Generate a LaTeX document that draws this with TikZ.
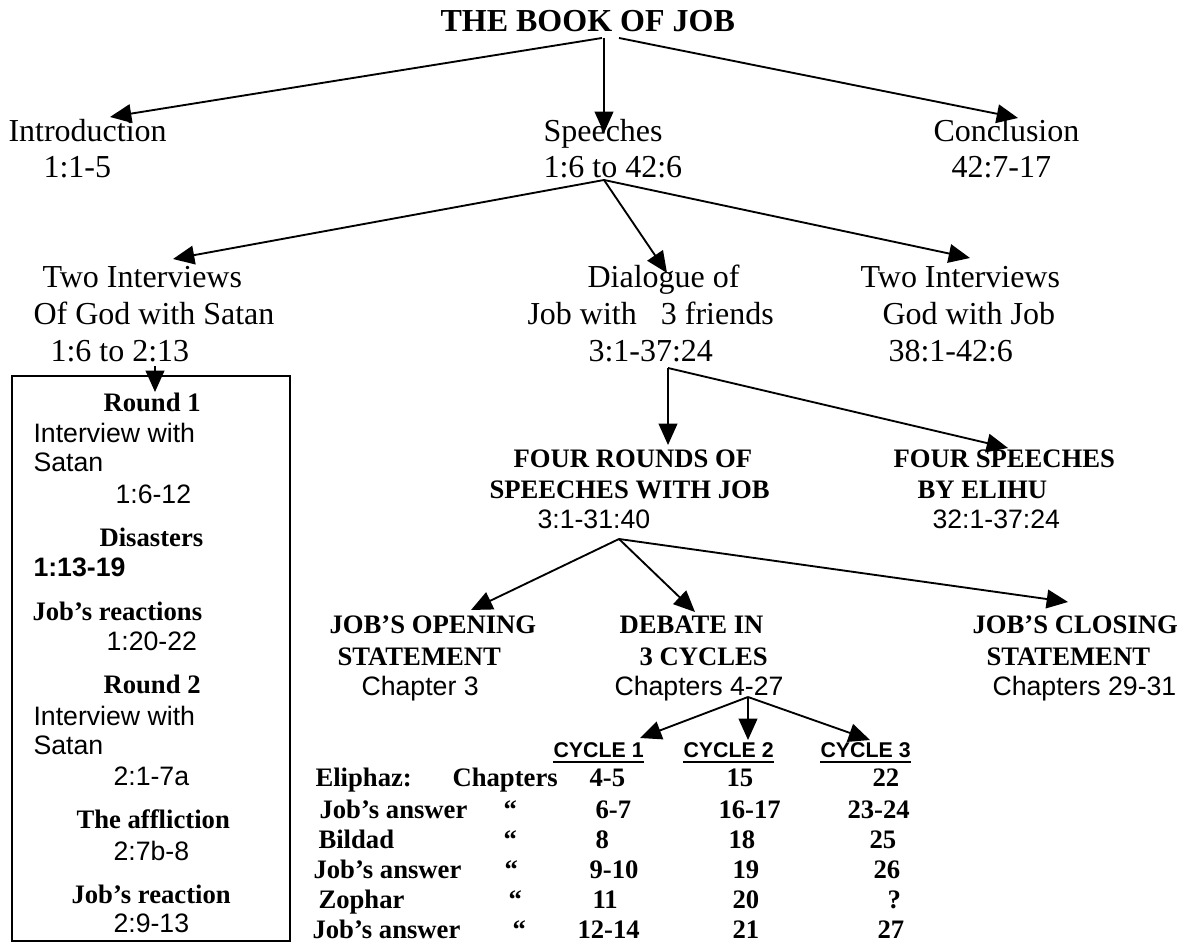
\documentclass[tikz,border=0pt]{standalone}
\usepackage{fontspec}
\setmainfont{Liberation Serif}
\setsansfont{Liberation Sans}
\usepackage{tikz}
\usetikzlibrary{arrows.meta}

\begin{document}
\begin{tikzpicture}[x=0.375pt,y=-0.375pt,
  txt/.style={anchor=base west,inner sep=0pt,font=\fontsize{12}{14}\selectfont},
  capt/.style={anchor=base west,inner sep=0pt,font=\fontsize{10}{12}\selectfont\bfseries},
  ref/.style={anchor=base west,inner sep=0pt,font=\sffamily\fontsize{10}{12}\selectfont},
  hdr/.style={anchor=base west,inner sep=0pt,font=\sffamily\bfseries\fontsize{8}{10}\selectfont},
  arr/.style={-{Triangle[length=8pt,width=7pt]},line width=0.7pt}
]
\useasboundingbox (0,0) rectangle (1179,943);

% top level
\node[txt,font=\fontsize{12}{14}\selectfont\bfseries] (book) at (440,32) {THE BOOK OF JOB};
\node[txt] (intro)  at (8,142)   {Introduction};
\node[txt] (intro2) at (43,178)  {1:1-5};
\node[txt] (speech) at (543,142) {Speeches};
\node[txt] (speech2) at (543,178) {1:6 to 42:6};
\node[txt] (concl)  at (933,142) {Conclusion};
\node[txt] (concl2) at (951,178) {42:7-17};

% second level
\node[txt] (satan)  at (42,288)  {Two Interviews};
\node[txt] (satan2) at (33,325)  {Of God with Satan};
\node[txt] (satan3) at (50,362)  {1:6 to 2:13};
\node[txt] (dial)   at (587,288) {Dialogue of};
\node[txt] (dial2)  at (527,325) {Job with\ \ \ 3 friends};
\node[txt] (dial3)  at (588,362) {3:1-37:24};
\node[txt] (god)    at (860,288) {Two Interviews};
\node[txt] (god2)   at (882,325) {God with Job};
\node[txt] (god3)   at (888,362) {38:1-42:6};

% box of the two rounds
\draw[line width=0.6pt] (12,376) rectangle (290,941);
\node[capt] (r1)   at (103,412) {Round 1};
\node[ref]  (r1a)  at (33,443)  {Interview with};
\node[ref]  (r1b)  at (33,472)  {Satan};
\node[ref]  (r1c)  at (115,503) {1:6-12};
\node[capt] (dis)  at (99,547)  {Disasters};
\node[ref,font=\sffamily\bfseries\fontsize{10}{12}\selectfont] (dis2) at (33,577) {1:13-19};
\node[capt] (reac) at (32,620)  {Job’s reactions};
\node[ref]  (reac2) at (106,650) {1:20-22};
\node[capt] (r2)   at (103,693) {Round 2};
\node[ref]  (r2a)  at (33,725)  {Interview with};
\node[ref]  (r2b)  at (33,754)  {Satan};
\node[ref]  (r2c)  at (113,785) {2:1-7a};
\node[capt] (affl) at (76,828)  {The affliction};
\node[ref]  (affl2) at (113,860) {2:7b-8};
\node[capt] (reac3) at (71,903) {Job’s reaction};
\node[ref]  (reac4) at (113,932) {2:9-13};

% third level
\node[capt] (four)   at (513,468) {FOUR ROUNDS OF};
\node[capt] (four2)  at (489,498) {SPEECHES WITH JOB};
\node[ref]  (four3)  at (537,529) {3:1-31:40};
\node[capt] (elihu)  at (893,468) {FOUR SPEECHES};
\node[capt] (elihu2) at (917,498) {BY ELIHU};
\node[ref]  (elihu3) at (932,529) {32:1-37:24};

\node[capt] (open)   at (329,633) {JOB’S OPENING};
\node[capt] (open2)  at (337,665) {STATEMENT};
\node[ref]  (open3)  at (361,695) {Chapter 3};
\node[capt] (deb)    at (619,633) {DEBATE IN};
\node[capt] (deb2)   at (639,665) {3 CYCLES};
\node[ref]  (deb3)   at (614,695) {Chapters 4-27};
\node[capt] (close)  at (972,633) {JOB’S CLOSING};
\node[capt] (close2) at (986,665) {STATEMENT};
\node[ref]  (close3) at (992,695) {Chapters 29-31};

% cycles table
\node[hdr] (cyc1) at (553,757) {CYCLE 1};
\node[hdr] (cyc2) at (683,757) {CYCLE 2};
\node[hdr] (cyc3) at (820,757) {CYCLE 3};
\foreach \c in {cyc1,cyc2,cyc3}
  \draw[line width=0.75pt] ([yshift=-1.7pt]\c.base west) -- ([yshift=-1.7pt]\c.base east);

\node[capt] (eli)  at (315,786) {Eliphaz:};
\node[capt] (chap) at (452,786) {Chapters};
\node[capt] (ans1) at (319,818) {Job’s answer};
\node[capt] (bil)  at (318,848) {Bildad};
\node[capt] (ans2) at (313,878) {Job’s answer};
\node[capt] (zop)  at (318,908) {Zophar};
\node[capt] (ans3) at (312,938) {Job’s answer};
\foreach \x/\y [count=\i] in {503/818,503/848,504/878,508/908,512/938}
  \node[capt] (ditto\i) at (\x,\y) {“};

\foreach \x/\y/\t [count=\i] in {589/786/4-5,595/818/6-7,595/848/8,589/878/9-10,592/908/11,577/938/12-14}
  \node[capt] (ca\i) at (\x,\y) {\t};
\foreach \x/\y/\t [count=\i] in {726/786/15,718/818/16-17,728/848/18,732/878/19,732/908/20,732/938/21}
  \node[capt] (cb\i) at (\x,\y) {\t};
\foreach \x/\y/\t [count=\i] in {872/786/22,847/818/23-24,869/848/25,873/878/26,887/908/?,877/938/27}
  \node[capt] (cc\i) at (\x,\y) {\t};

% arrow ends
\coordinate (bookL) at (602,38);  \coordinate (bookM) at (604,38);  \coordinate (bookR) at (619,38);
\coordinate (introT) at (110,117); \coordinate (speechT) at (604,133); \coordinate (conclT) at (1018,118);
\coordinate (speechB) at (604,180);
\coordinate (satanT) at (173,259); \coordinate (dialT) at (667,273); \coordinate (godT) at (970,258);
\coordinate (satanB) at (155,366); \coordinate (boxT) at (155,392);
\coordinate (dialB) at (668,368);
\coordinate (fourT) at (668,445); \coordinate (elihuT) at (1008,448);
\coordinate (fourB) at (619,539);
\coordinate (openT) at (471,610); \coordinate (debT) at (695,612); \coordinate (closeT) at (1068,602);
\coordinate (debB) at (748,697);
\coordinate (cyc1T) at (640,738); \coordinate (cyc2T) at (748,740); \coordinate (cyc3T) at (870,740);

\draw[arr] (bookL) -- (introT);
\draw[arr] (bookM) -- (speechT);
\draw[arr] (bookR) -- (conclT);
\draw[arr] (speechB) -- (satanT);
\draw[arr] (speechB) -- (dialT);
\draw[arr] (speechB) -- (godT);
\draw[arr] (satanB) -- (boxT);
\draw[arr] (dialB) -- (fourT);
\draw[arr] (dialB) -- (elihuT);
\draw[arr] (fourB) -- (openT);
\draw[arr] (fourB) -- (debT);
\draw[arr] (fourB) -- (closeT);
\draw[arr] (debB) -- (cyc1T);
\draw[arr] (debB) -- (cyc2T);
\draw[arr] (debB) -- (cyc3T);
\end{tikzpicture}
\end{document}
